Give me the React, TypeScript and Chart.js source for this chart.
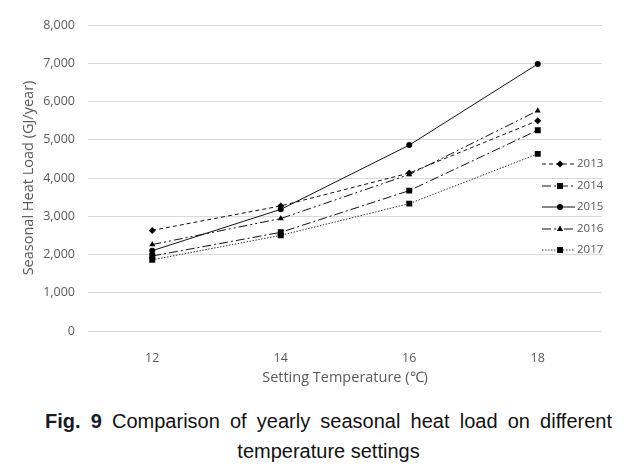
import React, { useEffect, useRef } from "react";
import { Chart, registerables } from "chart.js";

Chart.register(...registerables);

const categories = ["12", "14", "16", "18"];
const seriesNames = ["2013", "2014", "2015", "2016", "2017"];
const s2013 = [2630, 3270, 4130, 5500];
const s2014 = [1960, 2580, 3670, 5250];
const s2015 = [2100, 3180, 4860, 6980];
const s2016 = [2260, 2940, 4090, 5760];
const s2017 = [1860, 2500, 3330, 4630];
const seriesValues = [s2013, s2014, s2015, s2016, s2017];
const yTicks = [0, 1000, 2000, 3000, 4000, 5000, 6000, 7000, 8000];

const styles = [
  { dash: [4, 3], point: "rectRot", r: 3.5, color: "#111" },
  { dash: [9, 3, 2, 3], point: "rect", r: 4.2, color: "#111" },
  { dash: [], point: "circle", r: 3, color: "#111" },
  { dash: [9, 3, 2, 3, 2, 3], point: "triangle", r: 3.5, color: "#111" },
  { dash: [1.5, 1.5], point: "rect", r: 4.2, color: "#333" },
];

const FONT = "'Open Sans', 'Liberation Sans', sans-serif";

function drawMarker(ctx: CanvasRenderingContext2D, style: string, r: number, x: number, y: number) {
  ctx.beginPath();
  if (style === "circle") {
    ctx.arc(x, y, r, 0, Math.PI * 2);
  } else if (style === "rect") {
    const s = Math.SQRT1_2 * r;
    ctx.rect(x - s, y - s, 2 * s, 2 * s);
  } else if (style === "rectRot") {
    ctx.moveTo(x, y - r);
    ctx.lineTo(x + r, y);
    ctx.lineTo(x, y + r);
    ctx.lineTo(x - r, y);
    ctx.closePath();
  } else if (style === "triangle") {
    ctx.moveTo(x, y - r);
    ctx.lineTo(x + r * 0.9, y + r * 0.6);
    ctx.lineTo(x - r * 0.9, y + r * 0.6);
    ctx.closePath();
  }
  ctx.fill();
}

const legendPlugin = {
  id: "insideLegend",
  afterDraw(chart: any) {
    const ctx = chart.ctx;
    const ca = chart.chartArea;
    const rows = [139, 161, 182, 204, 225];
    ctx.save();
    chart.data.datasets.forEach((ds: any, i: number) => {
      const y = ca.top + rows[i];
      const x0 = ca.right - 60;
      const x1 = ca.right - 27;
      const xm = ca.right - 42;
      ctx.beginPath();
      ctx.setLineDash(ds.borderDash || []);
      ctx.strokeStyle = ds.borderColor;
      ctx.lineWidth = 1;
      ctx.moveTo(x0, y);
      ctx.lineTo(x1, y);
      ctx.stroke();
      ctx.setLineDash([]);
      ctx.fillStyle = ds.pointBackgroundColor;
      drawMarker(ctx, ds.pointStyle, ds.pointRadius, xm, y);
      ctx.fillStyle = "#595959";
      ctx.font = `11.5px ${FONT}`;
      ctx.textBaseline = "middle";
      ctx.textAlign = "left";
      ctx.fillText(ds.label, ca.right - 25, y);
    });
    ctx.restore();
  },
};

export default function App() {
  const ref = useRef<HTMLCanvasElement>(null);
  useEffect(() => {
    if (!ref.current) return;
    const chart = new Chart(ref.current, {
      type: "line",
      data: {
        labels: categories,
        datasets: seriesNames.map((name, i) => ({
          label: name,
          data: seriesValues[i],
          borderColor: styles[i].color,
          borderWidth: 1,
          borderDash: styles[i].dash,
          pointStyle: styles[i].point as any,
          pointRadius: styles[i].r,
          pointBackgroundColor: "#000",
          pointBorderColor: "#000",
          pointBorderWidth: 0,
          fill: false,
          tension: 0,
        })),
      },
      options: {
        animation: false,
        responsive: false,
        layout: { padding: { top: 25, right: 25, left: 0, bottom: 0 } },
        plugins: {
          legend: { display: false },
          tooltip: { enabled: false },
        },
        scales: {
          x: {
            offset: true,
            grid: { display: false },
            border: { display: false },
            ticks: { color: "#595959", font: { family: FONT, size: 12.5 }, padding: 12 },
            title: {
              display: true,
              text: "Setting Temperature (℃)",
              color: "#595959",
              font: { family: FONT, size: 14.5 },
              padding: { top: 0, bottom: 13 },
            },
            afterFit: (s: any) => {
              s.height = 69;
            },
          },
          y: {
            min: 0,
            max: 8000,
            afterBuildTicks: (s: any) => {
              s.ticks = yTicks.map((v) => ({ value: v }));
            },
            grid: { color: "#d9d9d9", lineWidth: 1, drawTicks: false },
            border: { display: false },
            ticks: {
              color: "#595959",
              font: { family: FONT, size: 12.5 },
              padding: 13,
              callback: (v: any) => Number(v).toLocaleString("en-US"),
            },
            title: {
              display: true,
              text: "Seasonal Heat Load (GJ/year)",
              color: "#595959",
              font: { family: FONT, size: 14.5 },
              padding: { top: 20, bottom: 0 },
            },
            afterFit: (s: any) => {
              s.width = 88;
            },
          },
        },
      },
      plugins: [legendPlugin],
    });
    return () => chart.destroy();
  }, []);

  return (
    <div style={{ position: "absolute", left: 0, top: 0, width: 627, height: 469, background: "#fff" }}>
      <canvas ref={ref} width={627} height={400} style={{ display: "block" }} />
      <div
        style={{
          position: "absolute",
          left: 45,
          top: 406,
          width: 567,
          fontFamily: "'Liberation Sans', Arial, sans-serif",
          fontSize: 20,
          lineHeight: "30px",
          color: "#111",
        }}
      >
        <div style={{ textAlign: "justify", textAlignLast: "justify" as any }}>
          <span style={{ fontWeight: "bold", color: "#1a1a2a" }}>Fig. 9</span> Comparison of yearly seasonal heat load on different
        </div>
        <div style={{ textAlign: "center" }}>temperature settings</div>
      </div>
    </div>
  );
}
